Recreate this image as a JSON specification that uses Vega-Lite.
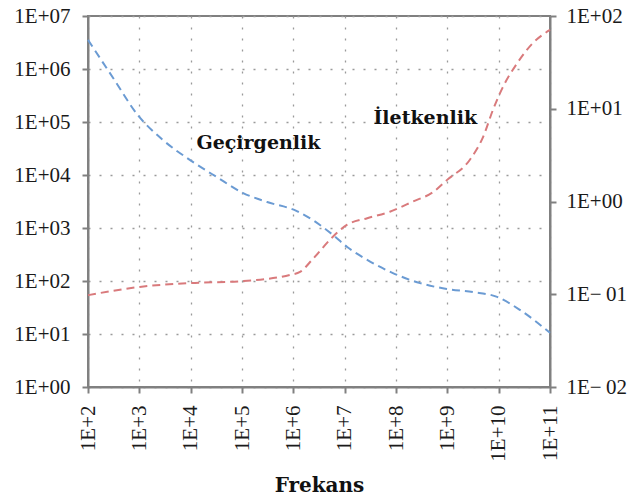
{
  "$schema": "https://vega.github.io/schema/vega-lite/v6.json",
  "width": 462,
  "height": 371,
  "autosize": {"type": "none"},
  "padding": {"left": 88, "top": 16, "right": 78, "bottom": 113},
  "background": "white",
  "config": {
    "view": {"stroke": "#808080", "strokeWidth": 2},
    "axis": {
      "domainColor": "#808080",
      "domainWidth": 2,
      "tickColor": "#808080",
      "tickWidth": 2,
      "tickSize": 6,
      "labelFont": "Liberation Serif",
      "labelFontSize": 21,
      "labelColor": "#1a1a1a",
      "labelPadding": 12,
      "gridColor": "#9a9a9a",
      "gridDash": [2, 9],
      "gridWidth": 1.3,
      "titleFont": "DejaVu Serif",
      "titleFontWeight": "bold",
      "titleFontSize": 20,
      "titleColor": "#111111"
    }
  },
  "datasets": {
    "gecirgenlik": [
      {"f": 1e2, "value": 3.55e6},
      {"f": 3.09e2, "value": 6.76e5},
      {"f": 9.33e2, "value": 1.35e5},
      {"f": 2.88e3, "value": 4.57e4},
      {"f": 9.77e3, "value": 1.91e4},
      {"f": 3.24e4, "value": 9120},
      {"f": 1.05e5, "value": 4570},
      {"f": 3.09e5, "value": 3090},
      {"f": 1.17e6, "value": 2090},
      {"f": 2.40e6, "value": 1413},
      {"f": 5.89e6, "value": 741},
      {"f": 1.12e7, "value": 437},
      {"f": 2.75e7, "value": 251},
      {"f": 8.71e7, "value": 141},
      {"f": 2.95e8, "value": 91.2},
      {"f": 9.77e8, "value": 70.8},
      {"f": 3.16e9, "value": 61.7},
      {"f": 9.33e9, "value": 50.1},
      {"f": 2.63e10, "value": 28.2},
      {"f": 1e11, "value": 10.5}
    ],
    "iletkenlik": [
      {"f": 1e2, "value": 0.0977},
      {"f": 1.02e3, "value": 0.120},
      {"f": 9.77e3, "value": 0.132},
      {"f": 9.12e4, "value": 0.138},
      {"f": 8.71e5, "value": 0.162},
      {"f": 1.35e6, "value": 0.174},
      {"f": 2.40e6, "value": 0.240},
      {"f": 5.89e6, "value": 0.417},
      {"f": 1.12e7, "value": 0.562},
      {"f": 2.75e7, "value": 0.661},
      {"f": 7.59e7, "value": 0.776},
      {"f": 2.14e8, "value": 1.0},
      {"f": 5.25e8, "value": 1.26},
      {"f": 9.77e8, "value": 1.70},
      {"f": 2.75e9, "value": 2.82},
      {"f": 5.01e9, "value": 5.01},
      {"f": 7.76e9, "value": 9.77},
      {"f": 1.20e10, "value": 17.0},
      {"f": 2.29e10, "value": 30.9},
      {"f": 4.68e10, "value": 51.3},
      {"f": 1e11, "value": 70.8}
    ],
    "etiketler": [
      {"f": 2.09e5, "value": 3.98e4, "label": "Geçirgenlik"},
      {"f": 3.72e8, "value": 1.2e5, "label": "İletkenlik"}
    ]
  },
  "layer": [
    {
      "layer": [
        {
          "data": {"name": "gecirgenlik"},
          "mark": {"type": "line", "color": "#6b9bd3", "strokeWidth": 2, "strokeDash": [8, 5], "interpolate": "monotone"},
          "encoding": {
            "x": {
              "field": "f", "type": "quantitative",
              "scale": {"type": "log", "domain": [100, 1e11]},
              "axis": {
                "values": [1e2, 1e3, 1e4, 1e5, 1e6, 1e7, 1e8, 1e9, 1e10, 1e11],
                "labelExpr": "'1E+' + round(log(datum.value)/LN10)",
                "labelAngle": -90,
                "grid": true,
                "title": "Frekans",
                "titleBaseline": "alphabetic",
                "titleY": 104
              }
            },
            "y": {
              "field": "value", "type": "quantitative",
              "scale": {"type": "log", "domain": [1, 1e7]},
              "axis": {
                "orient": "left",
                "values": [1, 10, 100, 1e3, 1e4, 1e5, 1e6, 1e7],
                "labelExpr": "'1E+0' + round(log(datum.value)/LN10)",
                "grid": true,
                "title": null
              }
            }
          }
        },
        {
          "data": {"name": "etiketler"},
          "mark": {"type": "text", "font": "DejaVu Serif", "fontWeight": "bold", "fontSize": 19, "color": "#111111", "align": "center", "baseline": "middle"},
          "encoding": {
            "x": {"field": "f", "type": "quantitative"},
            "y": {"field": "value", "type": "quantitative"},
            "text": {"field": "label"}
          }
        }
      ]
    },
    {
      "data": {"name": "iletkenlik"},
      "mark": {"type": "line", "color": "#d97a7c", "strokeWidth": 2, "strokeDash": [8, 5], "interpolate": "monotone"},
      "encoding": {
        "x": {"field": "f", "type": "quantitative"},
        "y": {
          "field": "value", "type": "quantitative",
          "scale": {"type": "log", "domain": [0.01, 100]},
          "axis": {
            "orient": "right",
            "values": [0.01, 0.1, 1, 10, 100],
            "labelExpr": "datum.value >= 1 ? '1E+0' + round(log(datum.value)/LN10) : '1E−\u20090' + round(-log(datum.value)/LN10)",
            "labelPadding": 10,
            "grid": false,
            "title": null
          }
        }
      }
    }
  ],
  "resolve": {"scale": {"y": "independent"}, "axis": {"y": "independent"}}
}
